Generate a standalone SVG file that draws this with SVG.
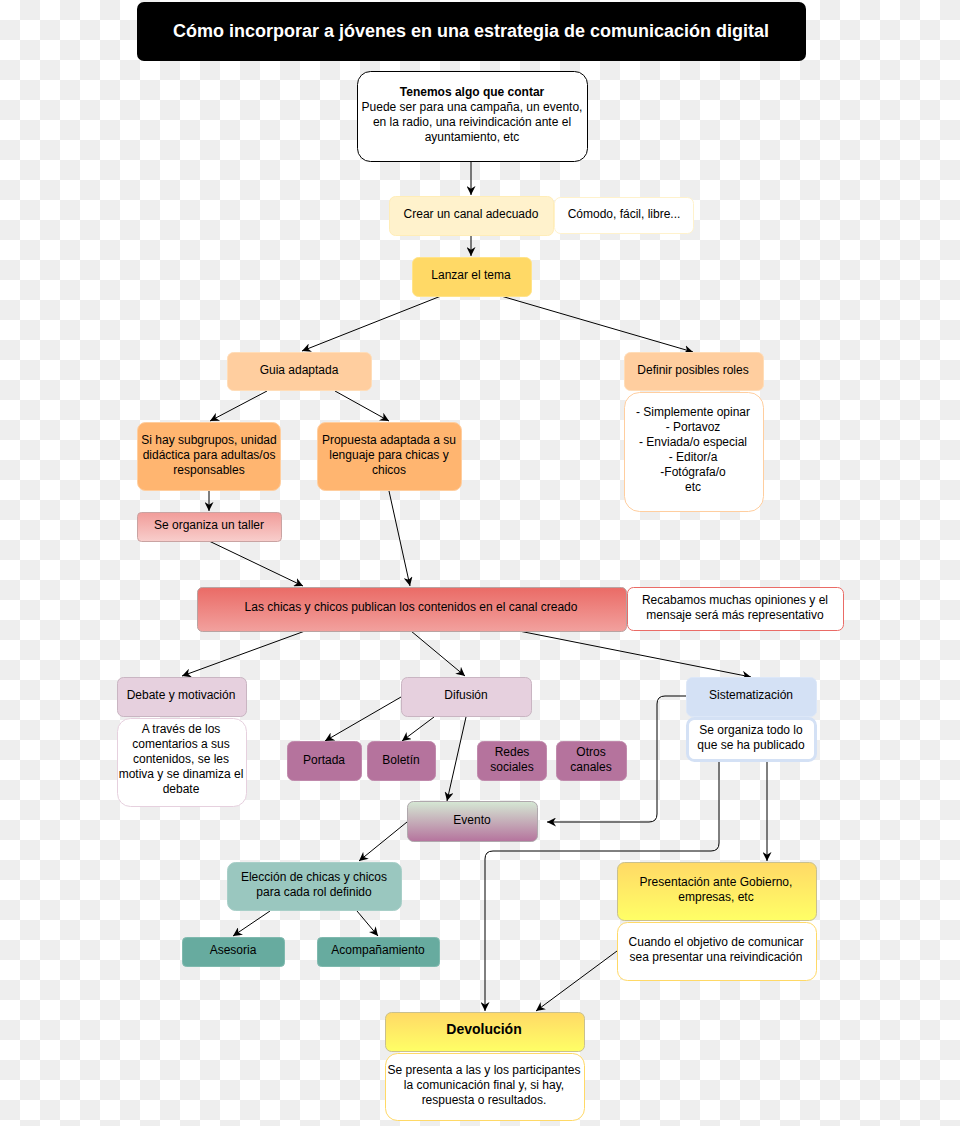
<svg xmlns="http://www.w3.org/2000/svg" width="960" height="1126" viewBox="0 0 960 1126">
<defs>
<pattern id="checker" patternUnits="userSpaceOnUse" width="40" height="40">
<rect width="40" height="40" fill="#FFFFFF"/>
<rect x="20" y="0" width="20" height="20" fill="#EEEEEE"/>
<rect x="0" y="20" width="20" height="20" fill="#EEEEEE"/>
</pattern>
<linearGradient id="gTaller" x1="0" y1="0" x2="0" y2="1"><stop offset="0" stop-color="#F19C99"/><stop offset="1" stop-color="#F8CECC"/></linearGradient>
<linearGradient id="gChicas" x1="0" y1="0" x2="0" y2="1"><stop offset="0" stop-color="#EA6B66"/><stop offset="1" stop-color="#F2A19E"/></linearGradient>
<linearGradient id="gEvento" x1="0" y1="0" x2="0" y2="1"><stop offset="0" stop-color="#D5E8D4"/><stop offset="1" stop-color="#B5739D"/></linearGradient>
<linearGradient id="gYellow" x1="0" y1="0" x2="0" y2="1"><stop offset="0" stop-color="#FFD966"/><stop offset="1" stop-color="#FFFF66"/></linearGradient>
<marker id="arr" viewBox="0 0 10 10" refX="10" refY="5" markerWidth="9" markerHeight="9" markerUnits="userSpaceOnUse" orient="auto">
<path d="M0,0 L10,5 L0,10 L3,5 z" fill="#000"/>
</marker>
<style>
text{font-family:"Liberation Sans",Arial,Helvetica,sans-serif;font-size:12px;fill:#000;text-anchor:middle}
.title{font-size:18px;font-weight:bold;fill:#FFF}
.b{font-weight:bold}
.conn path{fill:none;stroke:#000;stroke-width:1;marker-end:url(#arr)}
</style>
</defs>
<rect width="960" height="1126" fill="url(#checker)"/>

<g id="title">
<rect x="137" y="2" width="669" height="59" rx="7" fill="#000"/>
<text class="title" x="471" y="37">Cómo incorporar a jóvenes en una estrategia de comunicación digital</text>
</g>

<g class="conn" id="connectors">
<path d="M471,161 L471,195"/>
<path d="M471,235 L471,256"/>
<path d="M441,296 L302,351"/>
<path d="M501,296 L693,352"/>
<path d="M267,391 L210,421"/>
<path d="M335,391 L389,421"/>
<path d="M209,491 L209,511"/>
<path d="M209,541 L303,586"/>
<path d="M389,491 L410,586"/>
<path d="M305,631 L182,676"/>
<path d="M411,631 L465,676"/>
<path d="M519,631 L751,677"/>
<path d="M401,697 L325,741"/>
<path d="M434,717 L402,741"/>
<path d="M466,717 L447,801"/>
<path d="M686,696 L665,696 Q657,696 657,704 L657,814 Q657,822 649,822 L547,822"/>
<path d="M719,761 L719,843 Q719,851 711,851 L493,851 Q485,851 485,859 L485,1011"/>
<path d="M767,761 L767,861"/>
<path d="M617,951 L536,1011"/>
<path d="M407,822 L359,861"/>
<path d="M270,911 L233,936"/>
<path d="M357,911 L378,936"/>
</g>

<g id="n-contar">
<rect x="357.5" y="71.5" width="230" height="90" rx="13" fill="#FFF" stroke="#000"/>
<text class="b" x="472" y="96">Tenemos algo que contar</text>
<text x="472" y="111">Puede ser para una campaña, un evento,</text>
<text x="472" y="126">en la radio, una reivindicación ante el</text>
<text x="472" y="141">ayuntamiento, etc</text>
</g>

<g id="n-crear">
<rect x="389.5" y="196.5" width="164" height="39" rx="6" fill="#FFF2CC" stroke="#FFEDB8"/>
<text x="471" y="218">Crear un canal adecuado</text>
</g>
<g id="n-comodo">
<rect x="554.5" y="197.5" width="139" height="36" rx="6" fill="#FFF" stroke="#FFF2CC"/>
<text x="624" y="218">Cómodo, fácil, libre...</text>
</g>

<g id="n-lanzar">
<rect x="412.5" y="257.5" width="119" height="39" rx="6" fill="#FFD966" stroke="#FFE38A"/>
<text x="471" y="279">Lanzar el tema</text>
</g>

<g id="n-guia">
<rect x="227.5" y="352.5" width="144" height="38" rx="6" fill="#FFCE9F" stroke="#FFDDB8"/>
<text x="299" y="374">Guia adaptada</text>
</g>

<g id="n-definir">
<rect x="624.5" y="352.5" width="139" height="38" rx="6" fill="#FFCE9F" stroke="#FFDDB8"/>
<text x="693" y="374">Definir posibles roles</text>
</g>
<g id="n-roles">
<rect x="624.5" y="392.5" width="139" height="119" rx="15" fill="#FFF" stroke="#FFCE9F"/>
<text x="693" y="416">- Simplemente opinar</text>
<text x="693" y="431">- Portavoz</text>
<text x="693" y="446">- Enviada/o especial</text>
<text x="693" y="461">- Editor/a</text>
<text x="693" y="476">-Fotógrafa/o</text>
<text x="693" y="491">etc</text>
</g>

<g id="n-subgrupos">
<rect x="137.5" y="422.5" width="143" height="68" rx="8" fill="#FFB570" stroke="#FFCE9F"/>
<text x="209" y="444">Si hay subgrupos, unidad</text>
<text x="209" y="459">didáctica para adultas/os</text>
<text x="209" y="474">responsables</text>
</g>

<g id="n-propuesta">
<rect x="317.5" y="422.5" width="144" height="68" rx="8" fill="#FFB570" stroke="#FFCE9F"/>
<text x="389" y="444">Propuesta adaptada a su</text>
<text x="389" y="459">lenguaje para chicas y</text>
<text x="389" y="474">chicos</text>
</g>

<g id="n-taller">
<rect x="137.5" y="512.5" width="144" height="29" rx="4" fill="url(#gTaller)" stroke="#C9A3A2"/>
<text x="209" y="529">Se organiza un taller</text>
</g>

<g id="n-publican">
<rect x="197.5" y="587.5" width="429" height="44" rx="5" fill="url(#gChicas)" stroke="#B8A3A2"/>
<text x="411" y="611">Las chicas y chicos publican los contenidos en el canal creado</text>
</g>
<g id="n-recabamos">
<rect x="627.5" y="587.5" width="216" height="43" rx="6" fill="#FFF" stroke="#EA6B66"/>
<text x="735" y="604">Recabamos muchas opiniones y el</text>
<text x="735" y="619">mensaje será más representativo</text>
</g>

<g id="n-debate">
<rect x="117.5" y="677.5" width="129" height="39" rx="6" fill="#E6D0DE" stroke="#C9B5C2"/>
<text x="181" y="699">Debate y motivación</text>
</g>
<g id="n-debate-desc">
<rect x="117.5" y="718.5" width="129" height="88" rx="13" fill="#FFF" stroke="#E6D0DE"/>
<text x="181" y="733">A través de los</text>
<text x="181" y="748">comentarios a sus</text>
<text x="181" y="763">contenidos, se les</text>
<text x="181" y="778">motiva y se dinamiza el</text>
<text x="181" y="793">debate</text>
</g>

<g id="n-difusion">
<rect x="401.5" y="677.5" width="130" height="39" rx="6" fill="#E6D0DE" stroke="#C9B5C2"/>
<text x="466" y="699">Difusión</text>
</g>

<g id="n-portada">
<rect x="287.5" y="741.5" width="74" height="39" rx="6" fill="#B5739D" stroke="#C08AAC"/>
<text x="324" y="764">Portada</text>
</g>
<g id="n-boletin">
<rect x="367.5" y="741.5" width="68" height="39" rx="6" fill="#B5739D" stroke="#C08AAC"/>
<text x="401" y="764">Boletín</text>
</g>
<g id="n-redes">
<rect x="477.5" y="741.5" width="69" height="39" rx="6" fill="#B5739D" stroke="#C08AAC"/>
<text x="512" y="756">Redes</text>
<text x="512" y="771">sociales</text>
</g>
<g id="n-otros">
<rect x="556.5" y="741.5" width="70" height="39" rx="6" fill="#B5739D" stroke="#C08AAC"/>
<text x="591" y="756">Otros</text>
<text x="591" y="771">canales</text>
</g>

<g id="n-evento">
<rect x="407.5" y="801.5" width="130" height="40" rx="6" fill="url(#gEvento)" stroke="#B0A8AD"/>
<text x="472" y="824">Evento</text>
</g>

<g id="n-sistematizacion">
<rect x="686.5" y="677.5" width="130" height="39" rx="6" fill="#D4E1F5" stroke="#DCE7F8"/>
<text x="751" y="699">Sistematización</text>
</g>
<g id="n-sist-desc">
<rect x="687.5" y="718.5" width="128" height="42" rx="7" fill="#FFF" stroke="#D4E1F5" stroke-width="3"/>
<rect x="689.5" y="720.5" width="124" height="38" rx="6" fill="none" stroke="#FFF" stroke-width="1"/>
<text x="751" y="734">Se organiza todo lo</text>
<text x="751" y="749">que se ha publicado</text>
</g>

<g id="n-presentacion">
<rect x="617.5" y="862.5" width="199" height="58" rx="7" fill="url(#gYellow)" stroke="#C9C08F"/>
<text x="716" y="886">Presentación ante Gobierno,</text>
<text x="716" y="901">empresas, etc</text>
</g>
<g id="n-present-desc">
<rect x="617.5" y="922.5" width="199" height="58" rx="10" fill="#FFF" stroke="#FFD966"/>
<text x="716" y="946">Cuando el objetivo de comunicar</text>
<text x="716" y="961">sea presentar una reivindicación</text>
</g>

<g id="n-eleccion">
<rect x="227.5" y="862.5" width="174" height="48" rx="8" fill="#9AC7BF" stroke="#A8CFC8"/>
<text x="314" y="881">Elección de chicas y chicos</text>
<text x="314" y="896">para cada rol definido</text>
</g>

<g id="n-asesoria">
<rect x="182.5" y="937.5" width="102" height="29" rx="4" fill="#67AB9F" stroke="#7FB9AE"/>
<text x="233" y="954">Asesoria</text>
</g>
<g id="n-acompanamiento">
<rect x="317.5" y="937.5" width="122" height="29" rx="4" fill="#67AB9F" stroke="#7FB9AE"/>
<text x="378" y="954">Acompañamiento</text>
</g>

<g id="n-devolucion">
<rect x="385.5" y="1012.5" width="199" height="39" rx="6" fill="url(#gYellow)" stroke="#C9C08F"/>
<text class="b" x="484" y="1034" style="font-size:14px">Devolución</text>
</g>
<g id="n-devol-desc">
<rect x="385.5" y="1053.5" width="199" height="67" rx="12" fill="#FFF" stroke="#FFD966"/>
<text x="484" y="1074">Se presenta a las y los participantes</text>
<text x="484" y="1089">la comunicación final y, si hay,</text>
<text x="484" y="1104">respuesta o resultados.</text>
</g>
</svg>
